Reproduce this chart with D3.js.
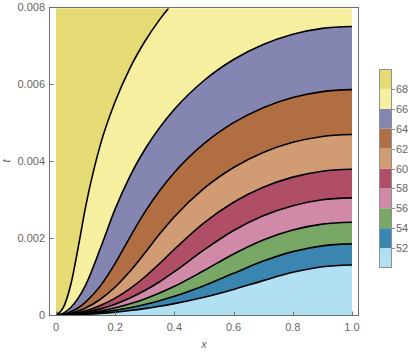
<!DOCTYPE html>
<html>
<head>
<meta charset="utf-8">
<script src="https://cdn.jsdelivr.net/npm/d3@7"></script>
<style>
  body { margin: 0; background: #fff; }
  text { font-family: "Liberation Sans", Arial, sans-serif; }
</style>
</head>
<body>
<script>
var xs = [0, 0.025, 0.05, 0.075, 0.1, 0.15, 0.2, 0.25, 0.3, 0.35, 0.4, 0.5, 0.6, 0.7, 0.8, 0.9, 1.0];

// t of each contour line at those x (null = above the plot)
var t68 = [0, 0.000198, 0.000792, 0.00176, 0.00281, 0.00443, 0.00555, 0.00642, 0.00711, 0.00768, 0.00816, null, null, null, null, null, null];
var t66 = [0, 0.0000487, 0.000195, 0.000438, 0.000779, 0.001734, 0.002758, 0.003611, 0.004302, 0.004871, 0.005348, 0.006097, 0.006643, 0.007034, 0.007299, 0.007452, 0.007502];
var t64 = [0, 0.000021, 0.0000842, 0.000189, 0.000337, 0.000757, 0.001343, 0.002025, 0.002673, 0.003232, 0.003706, 0.004454, 0.005000, 0.005391, 0.005655, 0.005808, 0.005859];
var t62 = [0, 0.0000114, 0.0000455, 0.000102, 0.000182, 0.000409, 0.000727, 0.001136, 0.00161, 0.002103, 0.002553, 0.00329, 0.003834, 0.004225, 0.004489, 0.004642, 0.004693];
var t60 = [0, 0.0000069, 0.0000275, 0.0000618, 0.00011, 0.000247, 0.00044, 0.000687, 0.000988, 0.001338, 0.001709, 0.002396, 0.002931, 0.003321, 0.003585, 0.003738, 0.003788];
var t58 = [0, 0.0000044, 0.0000176, 0.0000397, 0.0000706, 0.000159, 0.000282, 0.000441, 0.000635, 0.000864, 0.001127, 0.001692, 0.002197, 0.00258, 0.002843, 0.002996, 0.003046];
var t56 = [0, 0.0000029, 0.0000116, 0.0000262, 0.0000465, 0.000105, 0.000186, 0.000291, 0.000419, 0.00057, 0.000745, 0.001156, 0.001588, 0.001952, 0.002211, 0.002363, 0.002413];
var t54 = [0, 0.0000019, 0.0000076, 0.0000171, 0.0000304, 0.0000685, 0.000122, 0.00019, 0.000274, 0.000373, 0.000487, 0.000761, 0.001083, 0.001401, 0.001648, 0.001798, 0.001848];
var t52 = [0, 0.0000012, 0.0000046, 0.0000104, 0.0000185, 0.0000416, 0.0000739, 0.000116, 0.000166, 0.000226, 0.000296, 0.000462, 0.000665, 0.000894, 0.001109, 0.001253, 0.0013];

var levels = [52, 54, 56, 58, 60, 62, 64, 66, 68];
var contours = [t52, t54, t56, t58, t60, t62, t64, t66, t68];
// band colours, lowest band (<52) first
var bandColors = ["#b1e0f3", "#3b86b0", "#78a766", "#d089a7", "#b04e68", "#d19c73", "#b06e42", "#8485b1", "#f6ef9f", "#e6da74"];

var xTicks = [0, 0.2, 0.4, 0.6, 0.8, 1.0];
var tTicks = [0, 0.002, 0.004, 0.006, 0.008];
var legendTicks = [52, 54, 56, 58, 60, 62, 64, 66, 68];

var svg = d3.select("body").append("svg")
  .attr("width", 417)
  .attr("height", 353);

var x = d3.scaleLinear().domain([0, 1]).range([56, 352]);
var y = d3.scaleLinear().domain([0, 0.008]).range([315, 7.3]);

svg.append("defs").append("clipPath").attr("id", "plotclip")
  .append("rect")
  .attr("x", x(0)).attr("y", 8.5)
  .attr("width", x(1) - x(0)).attr("height", 315 - 8.5);

var plot = svg.append("g").attr("clip-path", "url(#plotclip)");

function pts(ts) {
  return xs.map(function(v, i) { return [v, ts[i]]; });
}

// 66-68 band fills the whole region first
plot.append("rect")
  .attr("x", x(0)).attr("y", y(0.008) - 2)
  .attr("width", x(1) - x(0)).attr("height", y(0) - y(0.008) + 2)
  .attr("fill", bandColors[8]);

// >68 region: left of the 68 contour
var topArea = d3.area()
  .defined(function(d) { return d[1] != null; })
  .x(function(d) { return x(d[0]); })
  .y0(function(d) { return y(d[1]); })
  .y1(y(0.008) - 3)
  .curve(d3.curveMonotoneX);
plot.append("path").datum(pts(t68))
  .attr("d", topArea)
  .attr("fill", bandColors[9]);

// paint bands under each contour, from the top level down
var underArea = d3.area()
  .x(function(d) { return x(d[0]); })
  .y0(y(0) + 2)
  .y1(function(d) { return y(d[1]); })
  .curve(d3.curveMonotoneX);
for (var k = 7; k >= 0; k--) {
  plot.append("path").datum(pts(contours[k]))
    .attr("d", underArea)
    .attr("fill", bandColors[k]);
}

var line = d3.line()
  .defined(function(d) { return d[1] != null; })
  .x(function(d) { return x(d[0]); })
  .y(function(d) { return y(d[1]); })
  .curve(d3.curveMonotoneX);
contours.forEach(function(c) {
  plot.append("path").datum(pts(c))
    .attr("d", line)
    .attr("fill", "none")
    .attr("stroke", "#000")
    .attr("stroke-width", 1.6);
});

// frame
var axisCol = "#6e6e6e";
svg.append("rect")
  .attr("x", 49.5).attr("y", 7.5)
  .attr("width", 309).attr("height", 308)
  .attr("fill", "none")
  .attr("stroke", axisCol)
  .attr("stroke-width", 1);

svg.selectAll(".xt").data(xTicks).enter().append("line")
  .attr("x1", function(d) { return Math.round(x(d)) + 0.5; })
  .attr("x2", function(d) { return Math.round(x(d)) + 0.5; })
  .attr("y1", 315.5).attr("y2", 311.5)
  .attr("stroke", axisCol);
svg.selectAll(".xl").data(xTicks).enter().append("text")
  .attr("x", function(d) { return x(d); })
  .attr("y", 331)
  .attr("text-anchor", "middle")
  .attr("font-size", 11)
  .attr("fill", "#666")
  .text(function(d) { return d === 0 ? "0" : d.toFixed(1); });

svg.selectAll(".yt").data(tTicks).enter().append("line")
  .attr("x1", 49.5).attr("x2", 53.5)
  .attr("y1", function(d) { return Math.round(y(d)) + 0.5; })
  .attr("y2", function(d) { return Math.round(y(d)) + 0.5; })
  .attr("stroke", axisCol);
svg.selectAll(".yl").data(tTicks).enter().append("text")
  .attr("x", 45)
  .attr("y", function(d) { return y(d) + 4; })
  .attr("text-anchor", "end")
  .attr("font-size", 11)
  .attr("fill", "#666")
  .text(function(d) { return d === 0 ? "0" : d.toFixed(3); });

svg.append("text")
  .attr("x", 204).attr("y", 348)
  .attr("text-anchor", "middle")
  .attr("font-size", 11).attr("font-style", "italic")
  .attr("fill", "#666")
  .text("x");
svg.append("text")
  .attr("transform", "translate(10,161) rotate(-90)")
  .attr("text-anchor", "middle")
  .attr("font-size", 11).attr("font-style", "italic")
  .attr("fill", "#666")
  .text("t");

// legend
var ly = d3.scaleLinear().domain([50, 70]).range([268, 69]);
var legend = svg.append("g");
bandColors.forEach(function(c, i) {
  legend.append("rect")
    .attr("x", 379).attr("width", 13)
    .attr("y", ly(50 + 2 * (i + 1)))
    .attr("height", ly(50 + 2 * i) - ly(50 + 2 * (i + 1)))
    .attr("fill", c);
});
legend.append("rect")
  .attr("x", 379.5).attr("y", ly(70) + 0.5)
  .attr("width", 12).attr("height", ly(50) - ly(70) - 1)
  .attr("fill", "none")
  .attr("stroke", "#8f8f8f");
legend.selectAll(".lt").data(legendTicks).enter().append("line")
  .attr("x1", 392).attr("x2", 395)
  .attr("y1", function(d) { return Math.round(ly(d)) + 0.5; })
  .attr("y2", function(d) { return Math.round(ly(d)) + 0.5; })
  .attr("stroke", "#8f8f8f");
legend.selectAll(".ll").data(legendTicks).enter().append("text")
  .attr("x", 396)
  .attr("y", function(d) { return ly(d) + 4; })
  .attr("font-size", 11)
  .attr("fill", "#666")
  .text(function(d) { return d; });
</script>
</body>
</html>
